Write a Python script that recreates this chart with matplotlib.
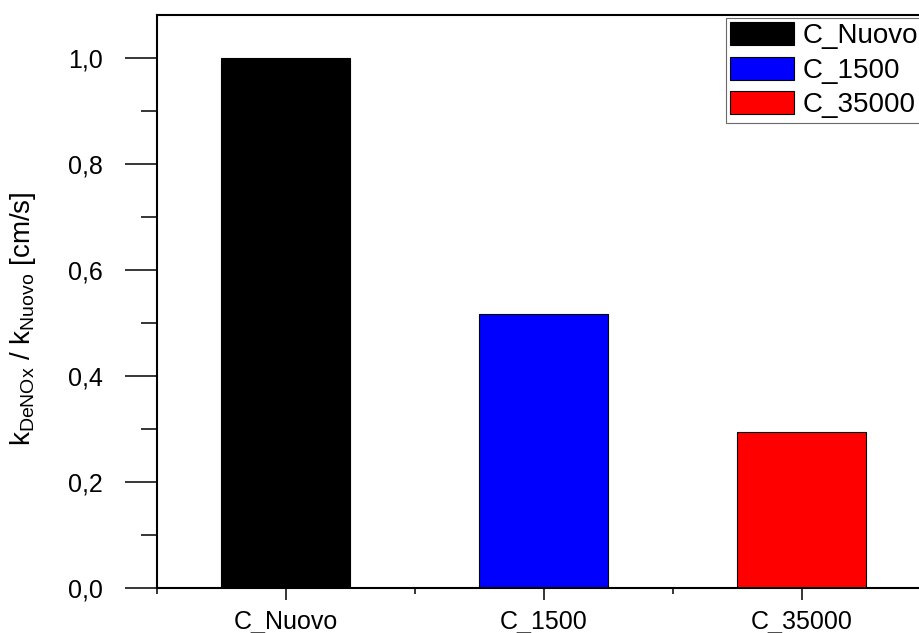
import matplotlib
matplotlib.use("Agg")
import matplotlib.pyplot as plt
from matplotlib.ticker import MultipleLocator, FuncFormatter, FixedLocator

plt.rcParams['font.family'] = ['Liberation Sans', 'DejaVu Sans']
plt.rcParams['mathtext.fontset'] = 'custom'
plt.rcParams['mathtext.rm'] = 'Liberation Sans'
plt.rcParams['mathtext.it'] = 'Liberation Sans'
plt.rcParams['mathtext.default'] = 'regular'

# Normalised DeNOx rate constants
categories = ["C_Nuovo", "C_1500", "C_35000"]
values = [1.0, 0.517, 0.294]
colors = ["#000000", "#0000FF", "#FF0000"]

W, H = 920, 633
fig = plt.figure(figsize=(W / 100, H / 100), dpi=100)
left_px, right_px, bottom_px, top_px = 157, 931, 588, 15
ax = fig.add_axes([left_px / W, (H - bottom_px) / H,
                   (right_px - left_px) / W, (bottom_px - top_px) / H])

x = list(range(len(categories)))
bars = ax.bar(x, values, width=0.5, color=colors, edgecolor="black",
              linewidth=0.8, label=categories)

ax.set_xlim(-0.5, 2.5)
ax.set_ylim(0, 1.081)

for s in ax.spines.values():
    s.set_linewidth(1.5)

ax.set_xticks(x)
ax.set_xticklabels(categories)
ax.xaxis.set_minor_locator(FixedLocator([-0.5, 0.5, 1.5, 2.5]))
ax.yaxis.set_major_locator(MultipleLocator(0.2))
ax.yaxis.set_minor_locator(MultipleLocator(0.1))
ax.yaxis.set_major_formatter(FuncFormatter(lambda v, p: f"{v:.1f}".replace(".", ",")))

ax.tick_params(axis="y", which="major", direction="out", length=23, width=1.1,
               labelsize=18, pad=16)
ax.tick_params(axis="y", which="minor", direction="out", length=11.5, width=1.1)
ax.tick_params(axis="x", which="major", direction="out", length=8.6, width=1.1,
               labelsize=18, pad=7)
ax.tick_params(axis="x", which="minor", direction="out", length=4, width=1.1)

ax.set_ylabel(r"$k_{DeNOx}$ / $k_{Nuovo}$ [cm/s]", fontsize=20)
ax.yaxis.set_label_coords(-(left_px - 38) / (right_px - left_px), 0.47)

leg = ax.legend(handles=bars.patches, labels=categories, loc="upper left",
                bbox_to_anchor=(726 / W, 1 - 18 / H), bbox_transform=fig.transFigure,
                fontsize=20, frameon=True, fancybox=False, borderaxespad=0,
                handlelength=2.3, handleheight=0.9, handletextpad=0.3,
                labelspacing=0.27, borderpad=0.15)
leg.get_frame().set_edgecolor("#444444")
leg.get_frame().set_linewidth(0.8)

fig.savefig("out.png", dpi=100)
